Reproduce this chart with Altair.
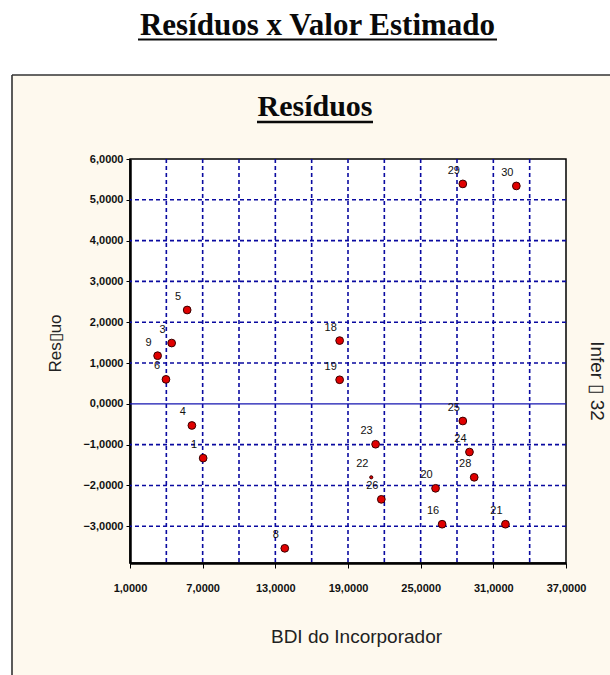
import altair as alt
import pandas as pd

# ---- data ----
ids = ["5", "3", "9", "6", "4", "1", "8", "18", "19", "29", "30", "25", "23", "24",
       "22", "28", "20", "26", "16", "21"]
bdi = [5.72, 4.44, 3.28, 3.97, 6.11, 7.04, 13.78, 18.31, 18.31, 28.48, 32.9, 28.48,
       21.28, 29.03, 20.92, 29.42, 26.23, 21.75, 26.77, 32.0]
residuo = [2.30, 1.49, 1.18, 0.60, -0.53, -1.33, -3.54, 1.55, 0.59, 5.39, 5.34, -0.42,
           -0.99, -1.18, -1.80, -1.80, -2.07, -2.34, -2.95, -2.95]

x_ticks = [1, 7, 13, 19, 25, 31, 37]
y_ticks = [-3, -2, -1, 0, 1, 2, 3, 4, 5, 6]
x_grid = [4, 7, 10, 13, 16, 19, 22, 25, 28, 31, 34]
y_grid = [-3, -2, -1, 1, 2, 3, 4, 5]
zero_line = [0]

main_title = "Resíduos x Valor Estimado"
panel_title = "Resíduos"
x_title = "BDI do Incorporador"
y_title = "Res\u25AFuo"
right_text = "Infer \u25AF 32"

W, H = 436, 404
PL, PT = 130, 159

df = pd.DataFrame({"id": ids, "bdi": bdi, "res": residuo})
one = pd.DataFrame({"k": [0]})

xs = alt.Scale(domain=[1, 37], nice=False, zero=False)
ys = alt.Scale(domain=[-3.9, 6], nice=False, zero=False)
fmt = "replace(format(datum.value, '.4f'), '.', ',')"

x_axis = alt.Axis(
    values=x_ticks, labelExpr=fmt, title=x_title, grid=False,
    labelFont="Liberation Sans", labelFontSize=11, labelFontWeight="bold",
    labelColor="#111", labelPadding=14, tickSize=5, tickColor="black",
    domainColor="black", domainWidth=2.5, labelFlush=False, labelOverlap=False,
    titleFont="Liberation Sans", titleFontSize=19, titleFontWeight="normal",
    titleColor="#222", titleX=226, titleY=79, titleBaseline="alphabetic",
    titleAlign="center")
y_axis = alt.Axis(
    values=y_ticks, labelExpr=fmt, title=y_title, grid=False,
    labelFont="Liberation Sans", labelFontSize=11, labelFontWeight="bold",
    labelColor="#111", labelPadding=3, tickSize=4, tickColor="black",
    domainColor="black", domainWidth=2.5, labelFlush=False, labelOverlap=False,
    titleFont="Liberation Sans", titleFontSize=17, titleFontWeight="normal",
    titleColor="#222", titleX=-75, titleY=184, titleAngle=270,
    titleBaseline="middle", titleAlign="center")

BLUE = "#0a0aa0"

vgrid = alt.Chart(pd.DataFrame({"g": x_grid})).mark_rule(
    color=BLUE, strokeWidth=1.6, strokeDash=[4, 3]
).encode(x=alt.X("g:Q", scale=xs, axis=x_axis))

hgrid = alt.Chart(pd.DataFrame({"g": y_grid})).mark_rule(
    color=BLUE, strokeWidth=1.6, strokeDash=[4, 3]
).encode(y=alt.Y("g:Q", scale=ys, axis=y_axis))

zline = alt.Chart(pd.DataFrame({"z": zero_line})).mark_rule(
    color="#1515b0", strokeWidth=1.2
).encode(y=alt.Y("z:Q", scale=ys, axis=y_axis))

points = alt.Chart(df).mark_point(
    filled=True, shape="circle", color="#e00000", stroke="#3a0000", strokeWidth=1, opacity=1
).encode(
    x=alt.X("bdi:Q", scale=xs, axis=x_axis),
    y=alt.Y("res:Q", scale=ys, axis=y_axis),
    size=alt.condition(alt.datum.id == "22", alt.value(10), alt.value(60)),
)

labels = alt.Chart(df).mark_text(
    font="Liberation Sans", fontSize=11, color="#111", dx=-9, dy=-13,
    align="center", baseline="middle"
).encode(
    x=alt.X("bdi:Q", scale=xs, axis=x_axis),
    y=alt.Y("res:Q", scale=ys, axis=y_axis),
    text="id:N",
)

# white page area around the cream panel
white_top = alt.Chart(one).mark_rect(color="white").encode(
    x=alt.value(-PL), x2=alt.value(610 - PL), y=alt.value(-PT), y2=alt.value(75 - PT))
white_left = alt.Chart(one).mark_rect(color="white").encode(
    x=alt.value(-PL), x2=alt.value(12 - PL), y=alt.value(75 - PT), y2=alt.value(675 - PT))
border_top = alt.Chart(one).mark_rule(color="#333", strokeWidth=1.6).encode(
    x=alt.value(12 - PL), x2=alt.value(610 - PL), y=alt.value(75 - PT))
border_left = alt.Chart(one).mark_rule(color="#333", strokeWidth=1.6).encode(
    x=alt.value(12 - PL), y=alt.value(75 - PT), y2=alt.value(675 - PT))

t_main = alt.Chart(one).mark_text(
    text=main_title, font="Liberation Serif", fontSize=31, fontWeight="bold",
    color="#0a0a0a", align="center", baseline="alphabetic"
).encode(x=alt.value(317.5 - PL), y=alt.value(35 - PT))
u_main = alt.Chart(one).mark_rule(color="#0a0a0a", strokeWidth=2).encode(
    x=alt.value(138 - PL), x2=alt.value(497 - PL), y=alt.value(39.5 - PT))

t_panel = alt.Chart(one).mark_text(
    text=panel_title, font="Liberation Serif", fontSize=30, fontWeight="bold",
    color="#0a0a0a", align="center", baseline="alphabetic"
).encode(x=alt.value(315 - PL), y=alt.value(116 - PT))
u_panel = alt.Chart(one).mark_rule(color="#0a0a0a", strokeWidth=2.5).encode(
    x=alt.value(257 - PL), x2=alt.value(373 - PL), y=alt.value(122 - PT))

t_right = alt.Chart(one).mark_text(
    text=right_text, font="Liberation Sans", fontSize=19, color="#222",
    angle=90, align="center", baseline="middle"
).encode(x=alt.value(597 - PL), y=alt.value(381 - PT))

chart = alt.layer(
    vgrid, hgrid, zline, points, labels,
    white_top, white_left, border_top, border_left,
    t_main, u_main, t_panel, u_panel, t_right,
).properties(
    width=W, height=H,
    autosize=alt.AutoSizeParams(type="none"),
    padding={"left": PL, "top": PT, "right": 610 - PL - W, "bottom": 675 - PT - H},
    background="#fef9ee",
).configure_view(
    fill="white", stroke="black", strokeWidth=1.5
)

chart.save("out.html", embed_options={"renderer": "svg", "actions": False})
